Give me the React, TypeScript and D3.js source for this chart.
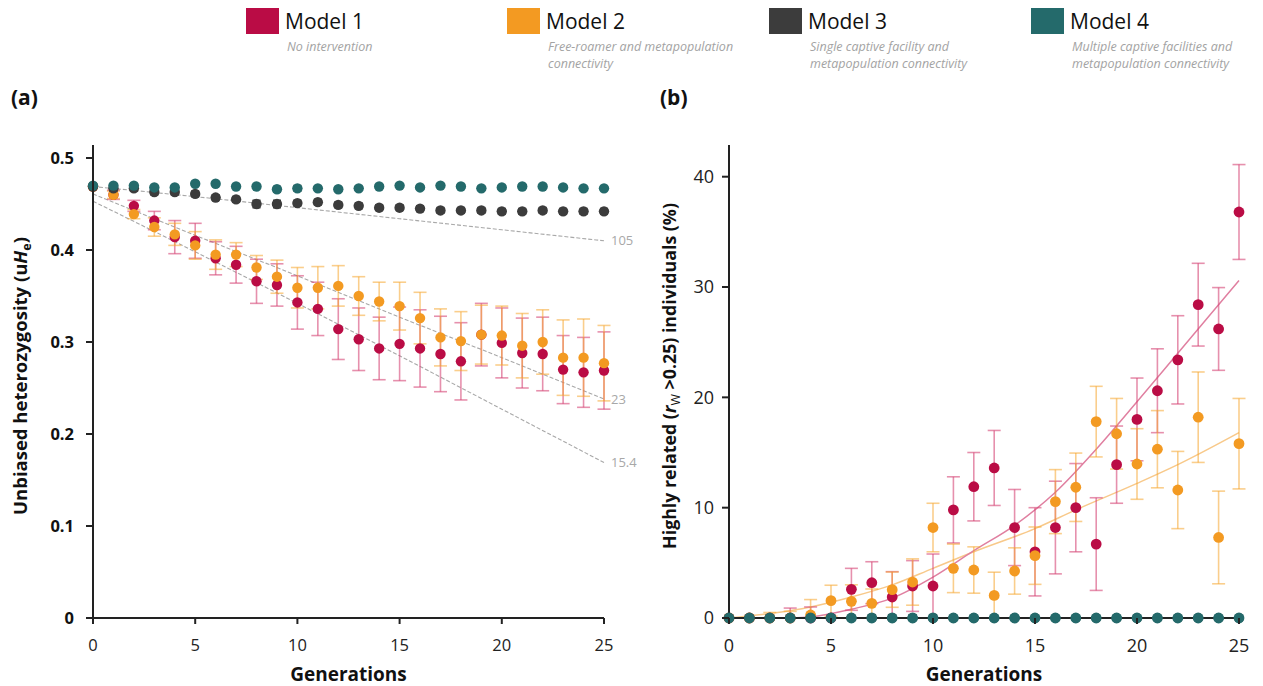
import React from "react";
import * as d3 from "d3";

// ---------- DATA ----------
const gens = [0, 1, 2, 3, 4, 5, 6, 7, 8, 9, 10, 11, 12, 13, 14, 15, 16, 17, 18, 19, 20, 21, 22, 23, 24, 25];

// Panel (a): unbiased heterozygosity
const m1H = [0.469, 0.46, 0.448, 0.432, 0.414, 0.41, 0.391, 0.384, 0.366, 0.362, 0.343, 0.336, 0.314, 0.303, 0.293, 0.298, 0.293, 0.287, 0.279, 0.308, 0.299, 0.288, 0.287, 0.27, 0.267, 0.269];
const m1HErr = [0, 0.005, 0.006, 0.01, 0.018, 0.019, 0.018, 0.02, 0.024, 0.023, 0.029, 0.029, 0.033, 0.034, 0.034, 0.04, 0.042, 0.041, 0.042, 0.034, 0.038, 0.038, 0.04, 0.037, 0.038, 0.042];
const m2H = [0.469, 0.46, 0.439, 0.425, 0.417, 0.405, 0.395, 0.395, 0.381, 0.371, 0.359, 0.359, 0.361, 0.35, 0.344, 0.339, 0.326, 0.305, 0.301, 0.308, 0.307, 0.296, 0.3, 0.283, 0.283, 0.277];
const m2HErr = [0, 0.004, 0.005, 0.01, 0.012, 0.015, 0.016, 0.013, 0.013, 0.018, 0.022, 0.023, 0.022, 0.021, 0.021, 0.026, 0.028, 0.031, 0.032, 0.032, 0.032, 0.035, 0.035, 0.041, 0.042, 0.041];
const m3H = [0.469, 0.467, 0.467, 0.463, 0.463, 0.461, 0.457, 0.455, 0.45, 0.45, 0.451, 0.452, 0.449, 0.448, 0.446, 0.446, 0.445, 0.443, 0.443, 0.443, 0.442, 0.442, 0.443, 0.442, 0.442, 0.442];
const m3HErr = [0, 0.003, 0.003, 0.003, 0.003, 0.003, 0.003, 0.003, 0.004, 0.004, 0.003, 0.003, 0.003, 0.003, 0.003, 0.003, 0.003, 0.003, 0.003, 0.003, 0.003, 0.003, 0.003, 0.003, 0.003, 0.003];
const m4H = [0.47, 0.47, 0.47, 0.468, 0.468, 0.472, 0.472, 0.469, 0.469, 0.466, 0.467, 0.467, 0.466, 0.467, 0.469, 0.47, 0.468, 0.47, 0.469, 0.467, 0.468, 0.469, 0.469, 0.468, 0.467, 0.467];
const m4HErr = [0, 0.002, 0.002, 0.002, 0.002, 0.002, 0.002, 0.002, 0.002, 0.003, 0.003, 0.002, 0.002, 0.002, 0.002, 0.002, 0.002, 0.002, 0.002, 0.002, 0.002, 0.002, 0.002, 0.002, 0.002, 0.002];

// Expected decline lines (Ne labels)
const expGens = [0, 5, 10, 15, 20, 25];
const exp105 = [0.469, 0.458, 0.446, 0.434, 0.422, 0.41];
const exp23 = [0.461, 0.416, 0.372, 0.327, 0.283, 0.238];
const exp154 = [0.453, 0.398, 0.342, 0.285, 0.227, 0.169];
const expLabels = ["105", "23", "15.4"];

// Panel (b): highly related individuals (%)
const m1R = [0, 0, 0, 0, 0, 0, 2.6, 3.2, 1.9, 2.9, 2.9, 9.8, 11.9, 13.6, 8.2, 6.0, 8.2, 10.0, 6.7, 13.9, 18.0, 20.6, 23.4, 28.4, 26.2, 36.8];
const m1RErr = [0, 0, 0, 0.9, 1.0, 0, 1.9, 1.9, 2.3, 2.3, 2.9, 3.0, 3.1, 3.4, 3.45, 4.0, 4.2, 4.0, 4.2, 3.5, 3.75, 3.8, 4.0, 3.75, 3.75, 4.3];
const m2R = [0, 0, 0, 0, 0.27, 1.57, 1.51, 1.33, 2.57, 3.26, 8.2, 4.5, 4.35, 2.05, 4.26, 5.65, 10.55, 11.85, 17.8, 16.7, 13.96, 15.3, 11.6, 18.2, 7.3, 15.8];
const m2RErr = [0, 0, 0.5, 0.6, 1.4, 1.4, 1.5, 1.3, 1.6, 2.1, 2.2, 2.2, 2.1, 2.1, 2.1, 2.6, 2.9, 3.1, 3.2, 3.2, 3.2, 3.5, 3.5, 4.1, 4.2, 4.1];
const m3R = [0, 0, 0, 0, 0, 0, 0, 0, 0, 0, 0, 0, 0, 0, 0, 0, 0, 0, 0, 0, 0, 0, 0, 0, 0, 0];
const m3RErr = [0, 0, 0, 0, 0, 0, 0.2, 0.3, 0.3, 0.3, 0.3, 0.2, 0, 0, 0, 0.2, 0, 0, 0, 0, 0.2, 0, 0, 0, 0, 0];
const m4R = [0, 0, 0, 0, 0, 0, 0, 0, 0, 0, 0, 0, 0, 0, 0, 0, 0, 0, 0, 0, 0, 0, 0, 0, 0, 0];

// Fitted trend lines (b)
const fit1Gens = [3, 4, 6, 8, 10, 12, 14, 16, 18, 20, 22, 25];
const fit1 = [0, 0.1, 0.8, 1.8, 3.7, 6.1, 8.4, 11.4, 15.3, 19.6, 24.0, 30.6];
const fit2Gens = [0, 2, 4, 6, 8, 10, 12, 15, 17, 20, 22, 25];
const fit2 = [0, 0.4, 1.0, 1.9, 3.0, 4.5, 6.0, 8.1, 9.8, 12.2, 13.9, 16.8];

const xTicks = [0, 5, 10, 15, 20, 25];
const yTicksA = [0, 0.1, 0.2, 0.3, 0.4, 0.5];
const yTicksALabels = ["0", "0.1", "0.2", "0.3", "0.4", "0.5"];
const yTicksB = [0, 10, 20, 30, 40];

const models = ["Model 1", "Model 2", "Model 3", "Model 4"];
const modelDesc = [
  ["No intervention"],
  ["Free-roamer and metapopulation", "connectivity"],
  ["Single captive facility and", "metapopulation connectivity"],
  ["Multiple captive facilities and", "metapopulation connectivity"],
];

// ---------- STYLE ----------
const COLORS = ["#BA0C45", "#F39A22", "#3C3C3C", "#246A6B"];
const ERR_COLORS = ["rgba(214,70,118,0.6)", "rgba(245,165,45,0.55)", "#333", "#333"];
const FONT = "'Open Sans', sans-serif";
const AXIS = "#222";

const xA = d3.scaleLinear().domain([0, 25]).range([93, 604]);
const yA = d3.scaleLinear().domain([0, 0.5]).range([618, 158]);
const xB = d3.scaleLinear().domain([0, 25]).range([729, 1239]);
const yB = d3.scaleLinear().domain([0, 40]).range([618, 176.7]);

type Sc = d3.ScaleLinear<number, number>;

function ErrBars({ vals, errs, x, y, color, cap }: { vals: number[]; errs: number[]; x: Sc; y: Sc; color: string; cap: number }) {
  return (
    <g stroke={color} strokeWidth={1.6} fill="none">
      {gens.map((g, i) => {
        const e = errs[i];
        if (!e) return null;
        const cx = x(g);
        const y1 = y(vals[i] + e);
        const y2 = y(Math.max(0, vals[i] - e));
        return (
          <g key={i}>
            <line x1={cx} x2={cx} y1={y1} y2={y2} />
            <line x1={cx - cap} x2={cx + cap} y1={y1} y2={y1} />
            {vals[i] - e > 0 && <line x1={cx - cap} x2={cx + cap} y1={y2} y2={y2} />}
          </g>
        );
      })}
    </g>
  );
}

function Dots({ vals, x, y, color, r }: { vals: number[]; x: Sc; y: Sc; color: string; r: number }) {
  return (
    <g fill={color}>
      {gens.map((g, i) => (
        <circle key={i} cx={x(g)} cy={y(vals[i])} r={r} />
      ))}
    </g>
  );
}

export default function App() {
  const lineA = (vals: number[]) =>
    d3.line<number>().x((_, i) => xA(expGens[i])).y((v) => yA(v)).curve(d3.curveMonotoneX)(vals) || "";
  const fitLine = (gs: number[], vals: number[]) =>
    d3.line<number>().x((_, i) => xB(gs[i])).y((v) => yB(v)).curve(d3.curveMonotoneX)(vals) || "";

  const legendX = [246, 507, 769, 1031];

  return (
    <div style={{ position: "absolute", left: 0, top: 0 }}>
      <svg width={1263} height={686} style={{ display: "block", background: "#fff" }} fontFamily={FONT}>
        {/* Legend */}
        {models.map((m, i) => (
          <g key={m}>
            <rect x={legendX[i]} y={8} width={33} height={26} fill={COLORS[i]} />
            <text x={legendX[i] + 39} y={29} fontSize={21} fill="#111">{m}</text>
            {modelDesc[i].map((line, j) => (
              <text key={j} x={legendX[i] + 41} y={51 + j * 17} fontSize={12.5} fontStyle="italic" fill="#a3a3a3">{line}</text>
            ))}
          </g>
        ))}

        {/* Panel labels */}
        <text x={11} y={105} fontSize={21} fontWeight={700} fill="#111">(a)</text>
        <text x={660} y={105} fontSize={21} fontWeight={700} fill="#111">(b)</text>

        {/* ---------- Panel A ---------- */}
        {[exp105, exp23, exp154].map((vals, k) => (
          <path key={k} d={lineA(vals)} fill="none" stroke="#a8a8a8" strokeWidth={1.1} strokeDasharray="4 2" />
        ))}
        {[exp105, exp23, exp154].map((vals, k) => (
          <text key={k} x={xA(25) + 7} y={yA(vals[vals.length - 1])} dy="0.35em" fontSize={13} fill="#a8a8a8">{expLabels[k]}</text>
        ))}

        <ErrBars vals={m1H} errs={m1HErr} x={xA} y={yA} color={ERR_COLORS[0]} cap={6.5} />
        <ErrBars vals={m2H} errs={m2HErr} x={xA} y={yA} color={ERR_COLORS[1]} cap={6.5} />
        <Dots vals={m1H} x={xA} y={yA} color={COLORS[0]} r={5.2} />
        <Dots vals={m2H} x={xA} y={yA} color={COLORS[1]} r={5.2} />
        <ErrBars vals={m3H} errs={m3HErr} x={xA} y={yA} color={ERR_COLORS[2]} cap={4} />
        <Dots vals={m3H} x={xA} y={yA} color={COLORS[2]} r={5.2} />
        <ErrBars vals={m4H} errs={m4HErr} x={xA} y={yA} color={ERR_COLORS[3]} cap={4} />
        <Dots vals={m4H} x={xA} y={yA} color={COLORS[3]} r={5.2} />

        {/* axes A */}
        <line x1={93} x2={93} y1={145} y2={618} stroke={AXIS} strokeWidth={2} />
        <line x1={87} x2={604} y1={618} y2={618} stroke={AXIS} strokeWidth={2} />
        {yTicksA.map((t, i) => (
          <g key={t}>
            <line x1={86} x2={93} y1={yA(t)} y2={yA(t)} stroke={AXIS} strokeWidth={2} />
            <text x={74} y={yA(t)} dy="0.35em" textAnchor="end" fontSize={16.5} fontWeight={700} fill="#111">{yTicksALabels[i]}</text>
          </g>
        ))}
        {xTicks.map((t) => (
          <g key={t}>
            <line x1={xA(t)} x2={xA(t)} y1={618} y2={624} stroke={AXIS} strokeWidth={2} />
            <text x={xA(t)} y={651} textAnchor="middle" fontSize={16.5} fill="#222">{t}</text>
          </g>
        ))}
        <text x={xA(12.5)} y={681} textAnchor="middle" fontSize={19} fontWeight={700} fill="#111">Generations</text>
        <text transform="translate(27,376) rotate(-90)" textAnchor="middle" fontSize={18.5} fontWeight={700} fill="#111">
          Unbiased heterozygosity (u<tspan fontStyle="italic">H</tspan>
          <tspan fontSize={12.5} dy={4}>e</tspan>
          <tspan dy={-4}>)</tspan>
        </text>

        {/* ---------- Panel B ---------- */}
        <path d={fitLine(fit2Gens, fit2)} fill="none" stroke="#F8C98A" strokeWidth={1.5} />
        <path d={fitLine(fit1Gens, fit1)} fill="none" stroke="#E07FA0" strokeWidth={1.5} />

        <ErrBars vals={m1R} errs={m1RErr} x={xB} y={yB} color={ERR_COLORS[0]} cap={6.5} />
        <ErrBars vals={m2R} errs={m2RErr} x={xB} y={yB} color={ERR_COLORS[1]} cap={6.5} />
        <Dots vals={m1R} x={xB} y={yB} color={COLORS[0]} r={5.4} />
        <Dots vals={m2R} x={xB} y={yB} color={COLORS[1]} r={5.4} />

        {/* axes B */}
        <line x1={729} x2={729} y1={145} y2={618} stroke={AXIS} strokeWidth={2} />
        <line x1={723} x2={1240} y1={618} y2={618} stroke={AXIS} strokeWidth={2} />

        <ErrBars vals={m3R} errs={m3RErr} x={xB} y={yB} color={ERR_COLORS[2]} cap={4} />
        <Dots vals={m3R} x={xB} y={yB} color={COLORS[2]} r={5} />
        <Dots vals={m4R} x={xB} y={yB} color={COLORS[3]} r={5.4} />

        {yTicksB.map((t) => (
          <g key={t}>
            <line x1={722} x2={729} y1={yB(t)} y2={yB(t)} stroke={AXIS} strokeWidth={2} />
            <text x={714} y={yB(t)} dy="0.35em" textAnchor="end" fontSize={18} fill="#222">{t}</text>
          </g>
        ))}
        {xTicks.map((t) => (
          <g key={t}>
            <line x1={xB(t)} x2={xB(t)} y1={618} y2={624} stroke={AXIS} strokeWidth={2} />
            <text x={xB(t)} y={652} textAnchor="middle" fontSize={18} fill="#222">{t}</text>
          </g>
        ))}
        <text x={xB(12.5)} y={681} textAnchor="middle" fontSize={19} fontWeight={700} fill="#111">Generations</text>
        <text transform="translate(676,376) rotate(-90)" textAnchor="middle" fontSize={17.8} fontWeight={700} fill="#111">
          Highly related (<tspan fontStyle="italic">r</tspan>
          <tspan fontSize={12.5} dy={4} fontWeight={400}>W</tspan>
          <tspan dy={-4}> &gt;0.25) individuals (%)</tspan>
        </text>
      </svg>
    </div>
  );
}
